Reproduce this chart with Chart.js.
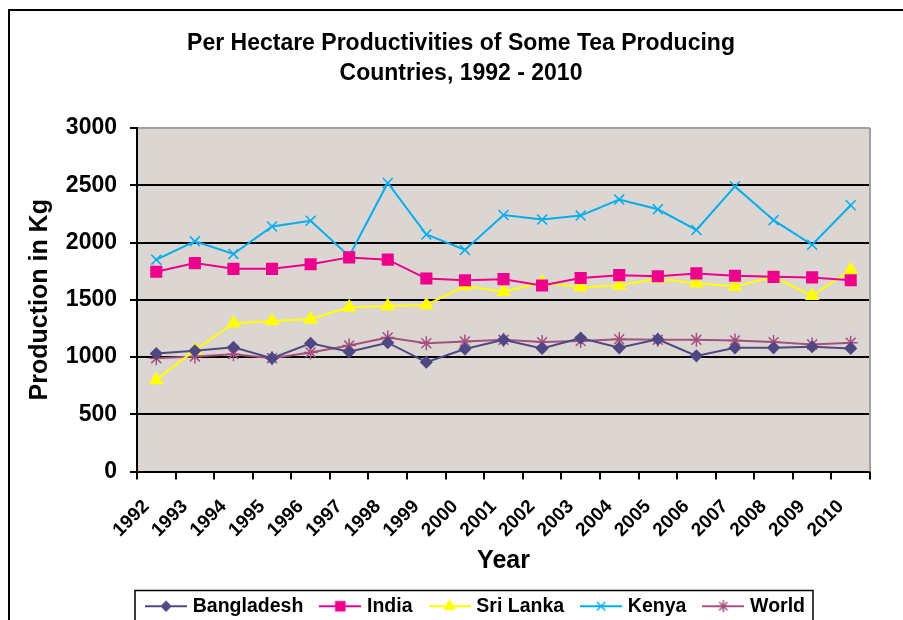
<!DOCTYPE html>
<html>
<head>
<meta charset="utf-8">
<script src="https://cdn.jsdelivr.net/npm/chart.js@4.4.0/dist/chart.umd.min.js"></script>
<style>
  html, body { margin: 0; padding: 0; background: #fff; }
</style>
</head>
<body>
<canvas id="myChart" width="903" height="620"></canvas>
<script>
const years = ['1992', '1993', '1994', '1995', '1996', '1997', '1998', '1999', '2000', '2001',
               '2002', '2003', '2004', '2005', '2006', '2007', '2008', '2009', '2010'];
const bangladesh = [1030, 1055, 1085, 990, 1120, 1045, 1125, 955, 1070, 1150, 1075, 1165, 1080, 1155, 1010, 1080, 1080, 1090, 1075];
const india = [1745, 1820, 1770, 1770, 1810, 1870, 1850, 1685, 1670, 1680, 1625, 1690, 1715, 1705, 1730, 1710, 1700, 1695, 1670];
const sriLanka = [800, 1060, 1295, 1315, 1330, 1435, 1445, 1455, 1620, 1570, 1650, 1610, 1625, 1685, 1645, 1615, 1700, 1535, 1760];
const kenya = [1850, 2010, 1900, 2140, 2190, 1880, 2520, 2070, 1935, 2240, 2200, 2235, 2375, 2290, 2110, 2490, 2195, 1980, 2325];
const world = [990, 1005, 1025, 990, 1040, 1100, 1170, 1120, 1135, 1150, 1130, 1140, 1155, 1150, 1150, 1145, 1130, 1110, 1125];
const yMin = 0;
const yMax = 3000;
const yStep = 500;

const FONT = "'Liberation Sans', Arial, sans-serif";

const series = [
    { label: 'Bangladesh', data: bangladesh, color: '#504882', style: 'rectRot', radius: 5.5 },
    { label: 'India', data: india, color: '#EC008C', style: 'rect', radius: 7.5 },
    { label: 'Sri Lanka', data: sriLanka, color: '#FFFF00', style: 'triangle', radius: 7 },
    { label: 'Kenya', data: kenya, color: '#00AEEF', style: 'crossRot', radius: 7 },
    { label: 'World', data: world, color: '#A4517E', style: 'star', radius: 7 }
];

// little line + marker pictures for the legend
function legendIcon(s) {
    const c = document.createElement('canvas');
    c.width = 42;
    c.height = 16;
    const ctx = c.getContext('2d');
    ctx.strokeStyle = s.color;
    ctx.fillStyle = s.color;
    ctx.lineWidth = 2;
    ctx.beginPath();
    ctx.moveTo(0, 8);
    ctx.lineTo(42, 8);
    ctx.stroke();
    if (Chart.helpers && Chart.helpers.drawPoint) {
        ctx.lineWidth = 1.5;
        Chart.helpers.drawPoint(ctx, { pointStyle: s.style, radius: s.radius * 0.85, borderWidth: 1.5, rotation: 0 }, 21, 8);
    }
    return c;
}

const plotDecor = {
    id: 'plotDecor',
    afterLayout(chart) {
        // legend sits under the middle of the plot, title a little right of the canvas middle
        const lg = chart.legend;
        const w = lg.right - lg.left;
        lg.left = 477 - w / 2;
        lg.right = lg.left + w;
        const tb = chart.titleBlock;
        tb.left += 21;
        tb.right += 21;
    },
    beforeDraw(chart) {
        const { ctx, chartArea: a } = chart;
        ctx.save();
        ctx.fillStyle = '#DCD6D3';
        ctx.fillRect(a.left, a.top, a.right - a.left, a.bottom - a.top);
        ctx.restore();
    },
    beforeDatasetsDraw(chart) {
        const { ctx, chartArea: a } = chart;
        ctx.save();
        ctx.strokeStyle = '#A0A0A0';
        ctx.lineWidth = 2;
        ctx.beginPath();
        ctx.moveTo(a.right, a.top);
        ctx.lineTo(a.right, a.bottom);
        ctx.stroke();
        ctx.restore();
    },
    afterDraw(chart) {
        const ctx = chart.ctx;
        const hb = chart.legend.legendHitBoxes;
        ctx.save();
        ctx.strokeStyle = '#000';
        ctx.lineWidth = 2;
        // outer frame (runs off the right and bottom edge)
        ctx.strokeRect(9, 10, 1000, 1000);
        if (hb && hb.length) {
            const first = hb[0];
            const last = hb[hb.length - 1];
            const x0 = first.left - 14;
            const x1 = last.left + last.width + 8;
            const y0 = first.top - 6;
            ctx.lineWidth = 1.5;
            ctx.strokeRect(x0, y0, x1 - x0, 100);
        }
        ctx.restore();
    }
};

new Chart(document.getElementById('myChart'), {
    type: 'line',
    data: {
        labels: years,
        datasets: series.map(s => ({
            label: s.label,
            data: s.data,
            borderColor: s.color,
            backgroundColor: s.color,
            borderWidth: 2,
            pointStyle: s.style,
            pointRadius: s.radius,
            pointHoverRadius: s.radius,
            pointBorderWidth: 1.5,
            pointBackgroundColor: s.color,
            pointBorderColor: s.color,
            tension: 0,
            fill: false
        }))
    },
    options: {
        responsive: false,
        animation: false,
        events: [],
        layout: { padding: { left: 10, right: 33, top: 0, bottom: -6 } },
        plugins: {
            title: {
                display: true,
                text: ['Per Hectare Productivities of Some Tea Producing', 'Countries, 1992 - 2010'],
                color: '#000',
                font: { family: FONT, size: 23, weight: 'bold', lineHeight: 30 / 23 },
                padding: { top: 29, bottom: 39 }
            },
            legend: {
                position: 'bottom',
                labels: {
                    usePointStyle: true,
                    pointStyleWidth: 34,
                    padding: 20,
                    color: '#000',
                    font: { family: FONT, size: 19.5, weight: 'bold' },
                    generateLabels: chart => series.map((s, i) => ({
                        text: s.label,
                        fillStyle: s.color,
                        strokeStyle: s.color,
                        lineWidth: 0,
                        pointStyle: legendIcon(s),
                        datasetIndex: i,
                        hidden: false
                    }))
                }
            },
            tooltip: { enabled: false }
        },
        scales: {
            x: {
                offset: true,
                afterFit: scale => { scale.height = 105; },
                grid: {
                    offset: true,
                    drawOnChartArea: false,
                    color: '#000',
                    lineWidth: 2,
                    tickLength: 8
                },
                border: { color: '#000', width: 2 },
                ticks: {
                    autoSkip: false,
                    minRotation: 45,
                    maxRotation: 45,
                    padding: 16,
                    labelOffset: -10,
                    color: '#000',
                    font: { family: FONT, size: 19, weight: 'bold' }
                },
                title: {
                    display: true,
                    text: 'Year',
                    color: '#000',
                    font: { family: FONT, size: 25, weight: 'bold', lineHeight: 1.2 },
                    padding: { top: 2, bottom: 0 }
                }
            },
            y: {
                min: yMin,
                max: yMax,
                afterFit: scale => { scale.width = 127; },
                grid: {
                    color: c => (c.tick && c.tick.value === yMax) ? '#A0A0A0' : '#000',
                    tickColor: '#000',
                    lineWidth: 2,
                    tickLength: 7
                },
                border: { color: '#000', width: 2 },
                ticks: {
                    stepSize: yStep,
                    padding: 13,
                    color: '#000',
                    font: { family: FONT, size: 23, weight: 'bold' },
                    callback: v => String(v)
                },
                title: {
                    display: true,
                    text: 'Production in Kg',
                    color: '#000',
                    font: { family: FONT, size: 25, weight: 'bold', lineHeight: 1.2 },
                    padding: { top: 15, bottom: 0 }
                }
            }
        }
    },
    plugins: [plotDecor]
});
</script>
</body>
</html>
